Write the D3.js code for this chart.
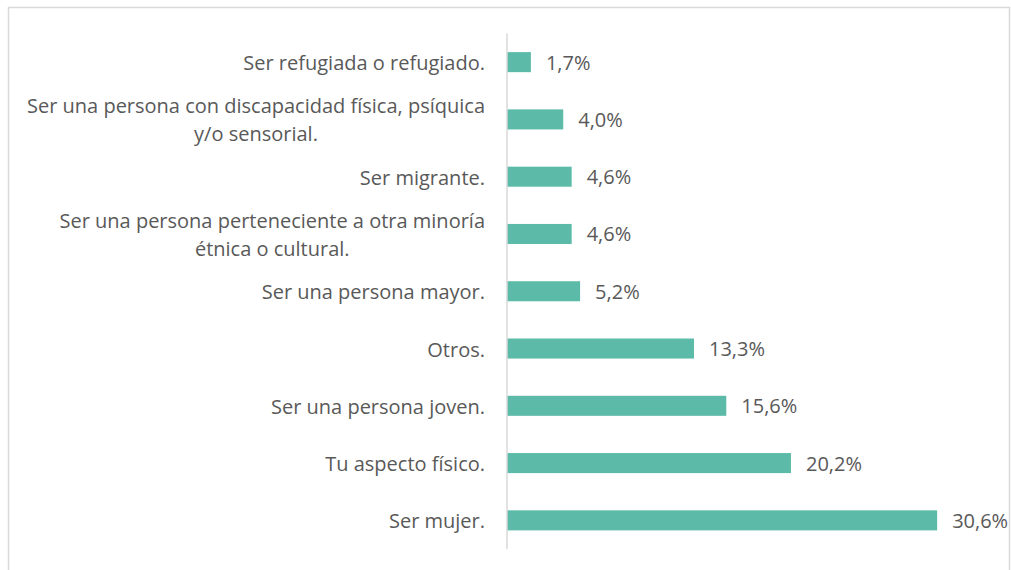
<!DOCTYPE html>
<html>
<head>
<meta charset="utf-8">
<script src="https://cdn.jsdelivr.net/npm/d3@7"></script>
<style>
  body { margin: 0; background: #fff; }
  text { font-family: "Open Sans", "Noto Sans", sans-serif; fill: #595959; }
</style>
</head>
<body>
<div id="vis"></div>
<script>
// categories, top to bottom (each one split into its display lines)
const categories = [
  ["Ser refugiada o refugiado."],
  ["Ser una persona con discapacidad física, psíquica", "y/o sensorial."],
  ["Ser migrante."],
  ["Ser una persona perteneciente a otra minoría", "étnica o cultural."],
  ["Ser una persona mayor."],
  ["Otros."],
  ["Ser una persona joven."],
  ["Tu aspecto físico."],
  ["Ser mujer."]
];
const values = [1.7, 4.0, 4.6, 4.6, 5.2, 13.3, 15.6, 20.2, 30.6];
const valueLabels = ["1,7%", "4,0%", "4,6%", "4,6%", "5,2%", "13,3%", "15,6%", "20,2%", "30,6%"];

const width = 1011;
const height = 570;
const fontSize = 20;
const lineGap = 28;

const data = categories.map((c, i) => ({
  key: c.join(" "),
  lines: c,
  value: values[i],
  label: valueLabels[i]
}));

const svg = d3
  .select("#vis")
  .append("svg")
  .attr("width", width)
  .attr("height", height);

// chart frame
svg
  .append("rect")
  .attr("x", 8.5)
  .attr("y", 7.5)
  .attr("width", 1001)
  .attr("height", 600)
  .attr("fill", "none")
  .attr("stroke", "#d9d9d9")
  .attr("stroke-width", 1.5);

const y = d3
  .scaleBand()
  .domain(data.map((d) => d.key))
  .range([33.5, 549])
  .paddingInner(0.65)
  .paddingOuter(0.325);

const x = d3.scaleLinear().domain([0, 35]).range([507, 999]);

// bars
svg
  .selectAll(".bar")
  .data(data)
  .enter()
  .append("rect")
  .attr("class", "bar")
  .attr("x", x(0))
  .attr("y", (d) => y(d.key))
  .attr("width", (d) => x(d.value) - x(0))
  .attr("height", y.bandwidth())
  .attr("fill", "#5cbba8");

// vertical axis line
svg
  .append("line")
  .attr("x1", x(0))
  .attr("x2", x(0))
  .attr("y1", y.range()[0])
  .attr("y2", y.range()[1])
  .attr("stroke", "#d9d9d9")
  .attr("stroke-width", 1.5);

// category labels, multi-line ones centred on each other
const cats = svg
  .selectAll(".cat")
  .data(data)
  .enter()
  .append("text")
  .attr("class", "cat")
  .style("font-size", fontSize + "px")
  .attr("dominant-baseline", "central");

cats.each(function (d) {
  const g = d3.select(this);
  const cy = y(d.key) + y.bandwidth() / 2;
  const n = d.lines.length;
  const spans = d.lines.map((l, j) =>
    g
      .append("tspan")
      .attr("y", cy + (j - (n - 1) / 2) * lineGap)
      .text(l)
  );
  // widest line sets the block, shorter lines centre under it
  const maxW = d3.max(spans, (s) => s.node().getComputedTextLength());
  const right = 485;
  spans.forEach((s) => {
    s.attr("x", right - maxW / 2).attr("text-anchor", "middle");
  });
});

// value labels
svg
  .selectAll(".val")
  .data(data)
  .enter()
  .append("text")
  .attr("class", "val")
  .attr("x", (d) => x(d.value) + 15)
  .attr("y", (d) => y(d.key) + y.bandwidth() / 2)
  .attr("dominant-baseline", "central")
  .style("font-size", fontSize + "px")
  .text((d) => d.label);
</script>
</body>
</html>
